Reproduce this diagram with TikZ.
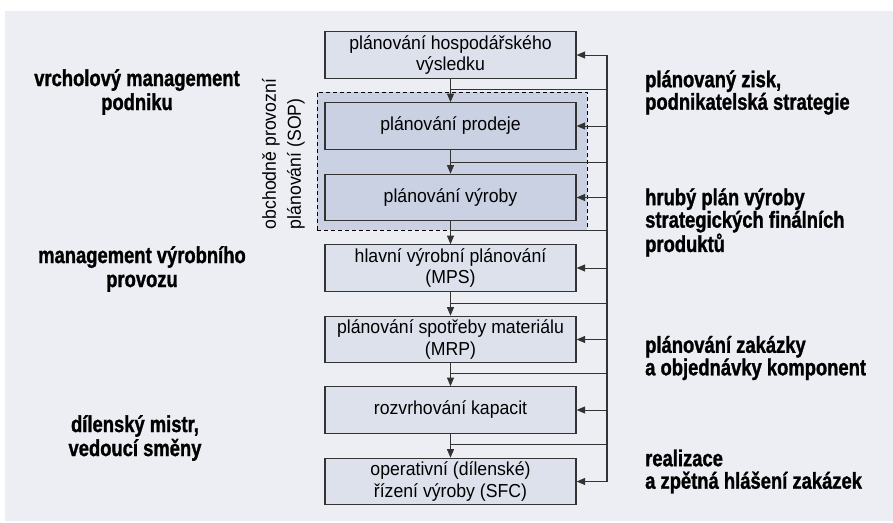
\documentclass[tikz,border=0pt]{standalone}
\usepackage{fontspec}
\setmainfont{Liberation Sans}[FakeStretch=0.94]
\newfontfamily\heavy{Liberation Sans Bold}[FakeStretch=0.8,FakeBold=1.2]
\usetikzlibrary{arrows.meta}
\definecolor{panel}{RGB}{236,238,244}
\definecolor{boxfill}{RGB}{221,225,236}
\definecolor{sopfill}{RGB}{201,209,226}
\definecolor{edge}{RGB}{51,51,51}
\begin{document}
\begin{tikzpicture}[x=1pt,y=-1pt,
  box/.style={draw=edge,line width=1.2pt,fill=boxfill,minimum width=251pt,minimum height=46.5pt,inner sep=0pt,align=center,font=\fontsize{18.8}{21.5}\selectfont},
  sopbox/.style={box,fill=sopfill},
  flow/.style={draw=edge,line width=1pt,-{Triangle[length=8.5pt,width=7pt]}},
  link/.style={draw=edge,line width=1pt},
  lvl/.style={inner sep=0pt,align=center,font=\heavy\fontsize{23}{24}\selectfont},
  res/.style={inner sep=0pt,align=left,anchor=west,font=\heavy\fontsize{23}{22.5}\selectfont}]
\useasboundingbox (0,0) rectangle (893,522);
\fill[white] (0,0) rectangle (893,522);
\fill[panel] (5,11) rectangle (893,521);
\node[draw=black,dash pattern=on 4pt off 3pt,line width=1pt,fill=sopfill,minimum width=270pt,minimum height=138pt,inner sep=0pt] (sop) at (452,161) {};
\node[rotate=90,align=left,inner sep=0pt,font=\fontsize{18.8}{25}\selectfont] (soplabel) at (283.5,154) {obchodně provozní\\plánování (SOP)};
\node[box] (b1) at (450.5,55) {plánování hospodářského\\výsledku};
\node[sopbox] (b2) at (450.5,126) {plánování prodeje};
\node[sopbox] (b3) at (450.5,197.5) {plánování výroby};
\node[box] (b4) at (450.5,268) {hlavní výrobní plánování\\(MPS)};
\node[box] (b5) at (450.5,339.5) {plánování spotřeby materiálu\\(MRP)};
\node[box] (b6) at (450.5,410) {rozvrhování kapacit};
\node[box] (b7) at (450.5,481.5) {operativní (dílenské)\\řízení výroby (SFC)};
\draw[flow] (b1) -- (b2);
\draw[flow] (b2) -- (b3);
\draw[flow] (b3) -- (b4);
\draw[flow] (b4) -- (b5);
\draw[flow] (b5) -- (b6);
\draw[flow] (b6) -- (b7);
\coordinate (rail) at (607,0);
\coordinate (g1) at (450.5,89);
\coordinate (g2) at (450.5,162);
\coordinate (g3) at (450.5,230.5);
\coordinate (g4) at (450.5,303);
\coordinate (g5) at (450.5,373);
\coordinate (g6) at (450.5,444);
\draw[link] (g1) -- (g1 -| rail);
\draw[link] (g2) -- (g2 -| rail);
\draw[link] (g3) -- (g3 -| rail);
\draw[link] (g4) -- (g4 -| rail);
\draw[link] (g5) -- (g5 -| rail);
\draw[link] (g6) -- (g6 -| rail);
\draw[link,line width=1.3pt] (b1.east -| rail) -- (b7.east -| rail);
\draw[flow] (b1.east -| rail) -- (b1.east);
\draw[flow] (b2.east -| rail) -- (b2.east);
\draw[flow] (b3.east -| rail) -- (b3.east);
\draw[flow] (b4.east -| rail) -- (b4.east);
\draw[flow] (b5.east -| rail) -- (b5.east);
\draw[flow] (b6.east -| rail) -- (b6.east);
\draw[flow] (b7.east -| rail) -- (b7.east);
\node[lvl] (l1) at (137,92) {vrcholový management\\podniku};
\node[lvl] (l2) at (142,269) {management výrobního\\provozu};
\node[lvl] (l3) at (135,438) {dílenský mistr,\\vedoucí směny};
\node[res] (t1) at (645,92.5) {plánovaný zisk,\\podnikatelská strategie};
\node[res] (t2) at (645,222.5) {hrubý plán výroby\\strategických finálních\\produktů};
\node[res] (t3) at (645,358) {plánování zakázky\\a objednávky komponent};
\node[res] (t4) at (645,471.5) {realizace\\a zpětná hlášení zakázek};
\end{tikzpicture}
\end{document}
